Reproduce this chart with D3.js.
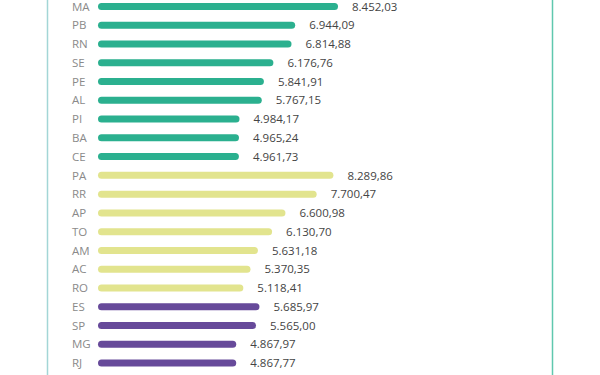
<!DOCTYPE html>
<html>
<head>
<meta charset="utf-8">
<script src="https://cdn.jsdelivr.net/npm/d3@7"></script>
<style>
  body { margin: 0; background: #fff; }
  svg { display: block; font-family: "Open Sans", "Noto Sans", sans-serif; }
</style>
</head>
<body>
<svg id="chart" width="600" height="375"></svg>
<script>
// states grouped by region
const states = ["MA", "PB", "RN", "SE", "PE", "AL", "PI", "BA", "CE",
  "PA", "RR", "AP", "TO", "AM", "AC", "RO",
  "ES", "SP", "MG", "RJ"];
const values = [8452.03, 6944.09, 6814.88, 6176.76, 5841.91, 5767.15, 4984.17, 4965.24, 4961.73,
  8289.86, 7700.47, 6600.98, 6130.70, 5631.18, 5370.35, 5118.41,
  5685.97, 5565.00, 4867.97, 4867.77];
const regions = ["NE", "NE", "NE", "NE", "NE", "NE", "NE", "NE", "NE",
  "N", "N", "N", "N", "N", "N", "N",
  "SE", "SE", "SE", "SE"];

const width = 600;
const height = 375;

const colour = d3.scaleOrdinal()
  .domain(["NE", "N", "SE"])
  .range(["#2bb08f", "#e2e48e", "#674a9a"]);

const fmt = (v) => v.toFixed(2)
  .replace(".", ",")
  .replace(/\B(?=(\d{3})+(?!\d))/g, ".");

const data = states.map((s, i) => ({ state: s, value: values[i], region: regions[i] }));

const svg = d3.select("#chart");

const x = d3.scaleLinear().domain([0, d3.max(values)]).range([98, 338]);
const y = d3.scalePoint().domain(states).range([6.5, 363]);

// card borders
svg.append("line")
  .attr("x1", 47.5).attr("x2", 47.5).attr("y1", 0).attr("y2", height)
  .attr("stroke", "#a3d6d6").attr("stroke-width", 1.5);
svg.append("line")
  .attr("x1", 552.5).attr("x2", 552.5).attr("y1", 0).attr("y2", height)
  .attr("stroke", "#5fc8ae").attr("stroke-width", 1.5);

const barH = 7;

const rows = svg.selectAll(".row")
  .data(data)
  .enter().append("g")
  .attr("class", "row");

rows.append("rect")
  .attr("x", x(0))
  .attr("y", (d) => y(d.state) - barH / 2)
  .attr("width", (d) => x(d.value) - x(0))
  .attr("height", barH)
  .attr("rx", barH / 2)
  .attr("fill", (d) => colour(d.region));

rows.append("text")
  .attr("x", 72)
  .attr("y", (d) => y(d.state))
  .attr("dy", "0.36em")
  .attr("font-size", 11.5)
  .attr("fill", "#8a8a8a")
  .text((d) => d.state);

rows.append("text")
  .attr("x", (d) => x(d.value) + 14)
  .attr("y", (d) => y(d.state))
  .attr("dy", "0.36em")
  .attr("font-size", 11.5)
  .attr("fill", "#444")
  .text((d) => fmt(d.value));
</script>
</body>
</html>
